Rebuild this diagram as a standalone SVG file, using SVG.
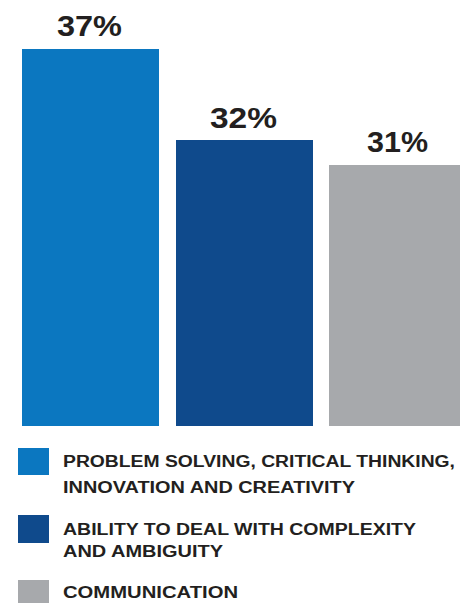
<svg xmlns="http://www.w3.org/2000/svg" width="460" height="603" viewBox="0 0 460 603">
<style>
.val{font-family:"Liberation Sans",Arial,sans-serif;font-weight:bold;font-size:29px;fill:#231f20}
.leg{font-family:"Liberation Sans",Arial,sans-serif;font-weight:bold;font-size:16px;fill:#231f20}
.c1{fill:#0b77c0}.c2{fill:#0f4a8c}.c3{fill:#a7a9ac}
</style>
<rect width="460" height="603" fill="#ffffff"/>
<g id="bar1"><rect class="c1" x="22" y="49" width="137" height="377"/><text class="val" x="57" y="36" textLength="65" lengthAdjust="spacingAndGlyphs">37%</text></g>
<g id="bar2"><rect class="c2" x="176" y="140" width="137" height="286"/><text class="val" x="210" y="128" textLength="67" lengthAdjust="spacingAndGlyphs">32%</text></g>
<g id="bar3"><rect class="c3" x="329" y="165" width="131" height="261"/><text class="val" x="367" y="152" textLength="61" lengthAdjust="spacingAndGlyphs">31%</text></g>
<g id="legend1"><rect class="c1" x="18" y="448" width="31" height="27"/>
<text class="leg" x="63" y="467" textLength="392" lengthAdjust="spacingAndGlyphs">PROBLEM SOLVING, CRITICAL THINKING,</text>
<text class="leg" x="63" y="493" textLength="292" lengthAdjust="spacingAndGlyphs">INNOVATION AND CREATIVITY</text></g>
<g id="legend2"><rect class="c2" x="18" y="515" width="31" height="28"/>
<text class="leg" x="63" y="535" textLength="353" lengthAdjust="spacingAndGlyphs">ABILITY TO DEAL WITH COMPLEXITY</text>
<text class="leg" x="63" y="557" textLength="160" lengthAdjust="spacingAndGlyphs">AND AMBIGUITY</text></g>
<g id="legend3"><rect class="c3" x="18" y="580" width="31" height="23"/>
<text class="leg" x="63" y="598" textLength="175" lengthAdjust="spacingAndGlyphs">COMMUNICATION</text></g>
</svg>
